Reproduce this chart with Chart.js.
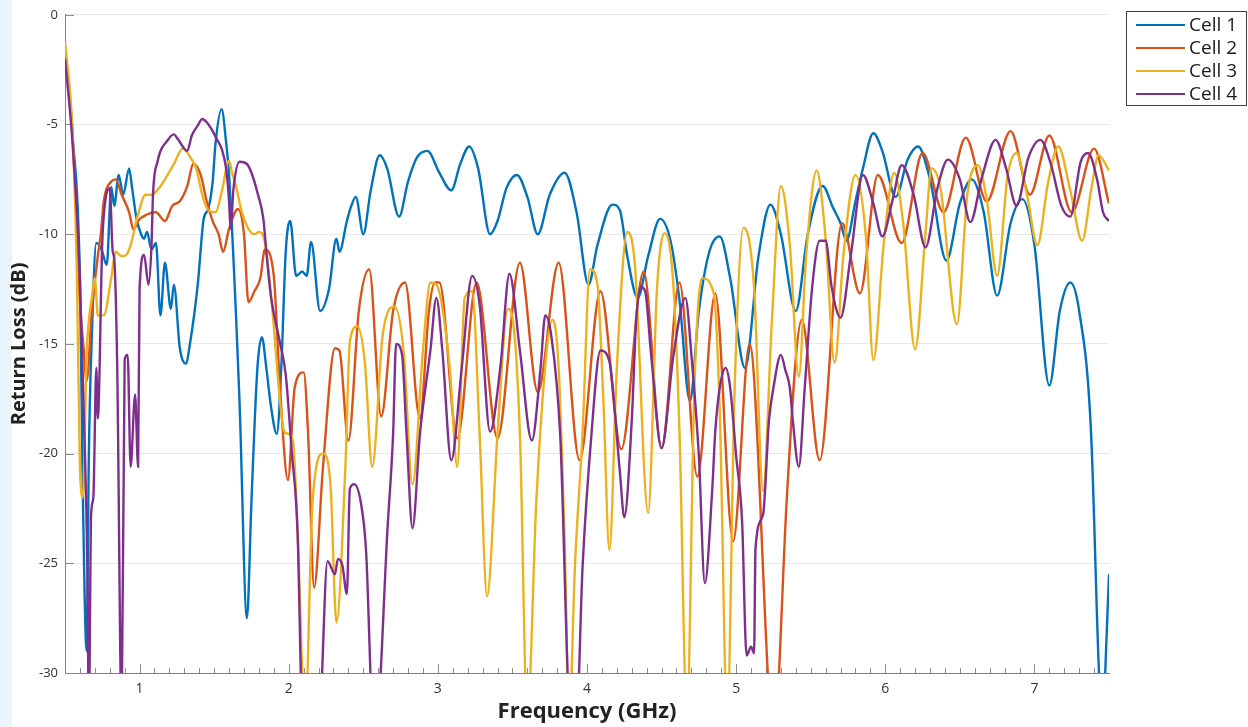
<!DOCTYPE html>
<html>
<head>
<meta charset="utf-8">
<title>Return Loss</title>
<script src="https://cdn.jsdelivr.net/npm/chart.js@4.4.1/dist/chart.umd.min.js"></script>
<style>
    html, body { margin: 0; padding: 0; }
    body {
        width: 1248px; height: 727px; overflow: hidden;
        background: linear-gradient(to right, #eaf4fa 0, #eaf4fa 12px, #ffffff 12px);
    }
</style>
</head>
<body>
<canvas id="rl-chart" width="1248" height="727"></canvas>
<script>
// Axis ticks
const xTickValues = [1, 2, 3, 4, 5, 6, 7];
const yTickValues = [0, -5, -10, -15, -20, -25, -30];

const cellLabels = ['Cell 1', 'Cell 2', 'Cell 3', 'Cell 4'];

// Cell 1 - frequency (GHz) / return loss (dB)
const cell1Freq = [0.50, 0.55, 0.60, 0.62, 0.645, 0.66, 0.68, 0.71, 0.745, 0.78, 0.81, 0.83, 0.86, 0.89, 0.93, 0.95, 0.98, 1.01, 1.03, 1.05,
    1.08, 1.11, 1.14, 1.17, 1.21, 1.23, 1.27, 1.31, 1.34, 1.39, 1.43, 1.46, 1.49, 1.51, 1.55, 1.58, 1.60, 1.67, 1.72, 1.75,
    1.79, 1.82, 1.85, 1.88, 1.92, 1.95, 1.98, 2.01, 2.05, 2.09, 2.12, 2.15, 2.21, 2.27, 2.32, 2.34, 2.39, 2.42, 2.45, 2.50,
    2.55, 2.61, 2.66, 2.74, 2.80, 2.86, 2.93, 3.01, 3.09, 3.15, 3.21, 3.27, 3.35, 3.40, 3.46, 3.53, 3.60, 3.67, 3.75, 3.85,
    3.93, 4.01, 4.07, 4.17, 4.22, 4.27, 4.34, 4.41, 4.49, 4.56, 4.62, 4.69, 4.75, 4.82, 4.89, 4.96, 5.06, 5.15, 5.23, 5.30,
    5.40, 5.48, 5.58, 5.65, 5.70, 5.74, 5.80, 5.85, 5.92, 5.98, 6.07, 6.15, 6.22, 6.30, 6.41, 6.50, 6.58, 6.66, 6.75, 6.84,
    6.92, 7.00, 7.10, 7.17, 7.24, 7.30, 7.38, 7.43, 7.455, 7.48, 7.50];
const cell1Loss = [-1.6, -5.5, -12, -22, -29.0, -20, -14.6, -10.4, -10.7, -11.4, -7.85, -8.7, -7.3, -8.2, -7.0, -7.9, -9.3, -10.0, -10.2, -9.9,
    -10.7, -10.4, -13.7, -11.3, -13.4, -12.3, -15.2, -15.9, -14.9, -12.3, -9.3, -8.85, -7.6, -5.8, -4.3, -5.8, -7.3, -17.6, -27.5, -22.2,
    -16.1, -14.7, -16.1, -17.8, -19.1, -16.1, -10.8, -9.4, -11.9, -11.7, -11.9, -10.35, -13.5, -12.5, -10.2, -10.8, -9.4, -8.7, -8.3, -10.0,
    -8.0, -6.4, -7.0, -9.2, -7.6, -6.5, -6.2, -7.2, -8.0, -6.8, -6.0, -7.0, -10.0, -9.4, -7.9, -7.3, -8.3, -10.0, -8.2, -7.2,
    -9.0, -12.3, -10.5, -8.65, -8.9, -11.0, -12.9, -11.0, -9.3, -10.3, -13.0, -17.6, -13.5, -10.8, -10.1, -12.0, -16.1, -11.0, -8.65, -10.0,
    -13.5, -10.0, -7.8, -8.8, -9.5, -10.3, -8.5, -7.0, -5.4, -6.2, -8.3, -6.6, -6.0, -7.5, -11.2, -8.6, -7.5, -9.0, -12.8, -9.5,
    -8.4, -10.5, -16.9, -13.5, -12.2, -13.5, -19.1, -29.5, -33, -29, -25.5];

// Cell 2
const cell2Freq = [0.50, 0.55, 0.60, 0.625, 0.645, 0.68, 0.72, 0.74, 0.76, 0.81, 0.84, 0.88, 0.93, 0.96, 0.99, 1.05, 1.11, 1.17, 1.22, 1.27,
    1.32, 1.36, 1.41, 1.45, 1.49, 1.53, 1.56, 1.60, 1.66, 1.70, 1.73, 1.77, 1.81, 1.84, 1.90, 1.94, 1.995, 2.04, 2.10, 2.13,
    2.17, 2.23, 2.31, 2.34, 2.40, 2.47, 2.54, 2.62, 2.70, 2.78, 2.88, 2.94, 2.98, 3.01, 3.13, 3.26, 3.40, 3.55, 3.67, 3.81,
    3.95, 4.09, 4.23, 4.38, 4.50, 4.62, 4.74, 4.86, 4.98, 5.09, 5.22, 5.25, 5.28, 5.34, 5.44, 5.56, 5.71, 5.83, 5.95, 6.11,
    6.25, 6.39, 6.54, 6.68, 6.84, 6.97, 7.10, 7.25, 7.40, 7.50];
const cell2Loss = [-1.5, -5.3, -13.1, -15.2, -16.7, -13.5, -11.0, -10.0, -8.5, -7.6, -7.5, -8.2, -9.0, -9.8, -9.4, -9.1, -9.0, -9.4, -8.7, -8.5,
    -7.8, -6.8, -7.3, -8.5, -9.4, -10.0, -10.8, -9.75, -8.85, -10.0, -13.1, -12.6, -12.0, -10.7, -11.9, -16.8, -21.2, -17.0, -16.3, -19.1,
    -26.1, -20.6, -15.2, -15.3, -19.4, -13.5, -11.6, -18.3, -13.5, -12.2, -18.4, -13.5, -12.2, -12.2, -19.3, -12.2, -19.3, -11.3, -17.2, -11.3,
    -20.3, -12.6, -19.8, -11.7, -19.75, -12.2, -21.05, -12.7, -24.0, -15.0, -31, -34, -31, -22, -13.9, -20.3, -9.5, -12.7, -7.3, -10.4,
    -6.3, -9.0, -5.6, -8.5, -5.3, -8.2, -5.5, -9.0, -6.1, -8.6];

// Cell 3
const cell3Freq = [0.50, 0.55, 0.58, 0.60, 0.62, 0.645, 0.68, 0.70, 0.72, 0.76, 0.81, 0.84, 0.88, 0.91, 0.94, 0.99, 1.04, 1.08, 1.13, 1.17,
    1.23, 1.29, 1.35, 1.38, 1.42, 1.46, 1.51, 1.55, 1.60, 1.62, 1.65, 1.68, 1.73, 1.77, 1.80, 1.84, 1.89, 1.94, 1.97, 2.00,
    2.03, 2.06, 2.11, 2.16, 2.23, 2.28, 2.32, 2.38, 2.41, 2.46, 2.51, 2.56, 2.63, 2.71, 2.77, 2.83, 2.90, 2.95, 2.99, 3.08,
    3.13, 3.18, 3.23, 3.28, 3.33, 3.40, 3.47, 3.50, 3.55, 3.60, 3.66, 3.73, 3.77, 3.81, 3.85, 3.88, 3.92, 3.97, 4.02, 4.07,
    4.11, 4.15, 4.20, 4.27, 4.32, 4.41, 4.47, 4.52, 4.58, 4.62, 4.67, 4.72, 4.77, 4.85, 4.89, 4.94, 4.99, 5.05, 5.12, 5.18,
    5.24, 5.30, 5.36, 5.42, 5.47, 5.54, 5.60, 5.66, 5.72, 5.80, 5.87, 5.92, 5.99, 6.06, 6.12, 6.20, 6.27, 6.31, 6.37, 6.48,
    6.55, 6.62, 6.68, 6.75, 6.82, 6.88, 6.95, 7.02, 7.09, 7.16, 7.24, 7.32, 7.38, 7.43, 7.50];
const cell3Loss = [-1.2, -5.3, -12, -20.6, -22.0, -15.5, -12.9, -12.0, -13.7, -13.7, -12.0, -10.8, -11.0, -10.95, -10.5, -9.1, -8.2, -8.2, -7.9, -7.5,
    -6.8, -6.1, -6.6, -7.0, -8.2, -8.9, -9.0, -8.1, -6.65, -7.2, -7.9, -8.85, -9.75, -10.0, -9.9, -10.35, -13.4, -17.5, -19.0, -19.1,
    -19.5, -23.7, -32, -22.2, -20.0, -21.4, -27.7, -20.6, -14.9, -14.2, -15.8, -20.6, -14.6, -13.3, -15.3, -21.4, -15.3, -12.2, -12.3, -16.1,
    -20.6, -12.9, -12.6, -19.1, -26.5, -19.1, -13.4, -13.8, -19.1, -32, -22.2, -15.3, -13.9, -16.1, -24, -32, -25, -19.1, -11.6, -12.3,
    -17.6, -24.4, -16.1, -9.9, -11.3, -22.7, -12.4, -9.95, -12.4, -19, -32, -17.0, -12.0, -12.7, -18, -32, -17.0, -9.7, -12.4, -21.7,
    -13.9, -7.8, -10.5, -16.5, -10.9, -7.1, -10.2, -15.85, -10.9, -7.3, -10.1, -15.75, -10.4, -7.2, -9.5, -15.25, -9.9, -7.0, -7.9, -14.1,
    -8.2, -6.85, -8.4, -11.9, -7.35, -6.3, -8.2, -10.5, -7.7, -6.0, -8.0, -10.3, -8.0, -6.4, -7.1];

// Cell 4
const cell4Freq = [0.50, 0.55, 0.60, 0.63, 0.65, 0.66, 0.675, 0.69, 0.71, 0.72, 0.75, 0.77, 0.80, 0.82, 0.83, 0.85, 0.88, 0.90, 0.92, 0.94,
    0.97, 0.99, 1.00, 1.03, 1.06, 1.08, 1.09, 1.12, 1.19, 1.23, 1.26, 1.32, 1.35, 1.39, 1.42, 1.45, 1.49, 1.52, 1.55, 1.58,
    1.60, 1.61, 1.63, 1.67, 1.72, 1.75, 1.79, 1.83, 1.85, 1.88, 1.94, 1.98, 2.02, 2.06, 2.09, 2.15, 2.21, 2.26, 2.31, 2.33,
    2.36, 2.39, 2.41, 2.44, 2.49, 2.52, 2.56, 2.58, 2.60, 2.66, 2.70, 2.72, 2.76, 2.79, 2.83, 2.88, 2.95, 2.99, 3.03, 3.09,
    3.16, 3.23, 3.28, 3.35, 3.42, 3.48, 3.55, 3.63, 3.69, 3.72, 3.76, 3.82, 3.89, 3.93, 3.97, 4.03, 4.09, 4.15, 4.22, 4.25,
    4.30, 4.33, 4.36, 4.39, 4.43, 4.50, 4.58, 4.66, 4.70, 4.75, 4.79, 4.84, 4.86, 4.89, 4.93, 4.96, 5.00, 5.04, 5.07, 5.10,
    5.12, 5.13, 5.18, 5.22, 5.25, 5.30, 5.33, 5.36, 5.38, 5.42, 5.46, 5.51, 5.56, 5.60, 5.64, 5.70, 5.77, 5.85, 5.92, 5.98,
    6.05, 6.11, 6.19, 6.27, 6.35, 6.42, 6.50, 6.57, 6.65, 6.74, 6.81, 6.88, 6.96, 7.04, 7.11, 7.18, 7.24, 7.31, 7.36, 7.42,
    7.46, 7.50];
const cell4Loss = [-2.0, -5.8, -12, -19.1, -25.2, -32, -22.8, -22.0, -16.1, -18.4, -10.35, -8.5, -7.9, -10.8, -11.1, -16, -32, -15.7, -15.5, -20.6,
    -17.3, -20.6, -12.5, -10.95, -12.3, -10.5, -8.2, -6.7, -5.7, -5.45, -5.7, -6.2, -5.5, -5.05, -4.75, -4.9, -5.3, -5.7, -6.1, -7.0,
    -8.5, -9.75, -7.9, -6.7, -6.8, -7.2, -8.1, -9.3, -10.8, -12.8, -14.9, -16.4, -19.9, -23.7, -32, -34, -32, -24.9, -25.5, -24.8,
    -25.1, -26.4, -21.6, -21.4, -22.5, -24.6, -32, -33, -32, -23.7, -19.1, -15.0, -15.5, -19.1, -23.4, -19.1, -15.3, -12.9, -15.3, -20.3,
    -16.1, -11.9, -13.2, -19.0, -16.0, -11.8, -15.3, -19.4, -16.0, -13.7, -14.6, -19.1, -32, -32, -25.2, -19.1, -15.3, -15.8, -20.8, -22.9,
    -18.5, -13.9, -12.4, -12.6, -15.5, -19.75, -15.5, -12.9, -15.5, -20.1, -25.9, -21.6, -19.0, -17.0, -16.1, -17.0, -20.1, -23.1, -29.2, -28.8,
    -29.1, -24.3, -22.8, -18.5, -17.0, -15.5, -16.2, -17.0, -18.5, -20.6, -17.0, -12.4, -10.3, -10.3, -12.4, -13.8, -10.9, -7.3, -8.6, -10.1,
    -8.4, -6.85, -8.2, -10.6, -7.9, -6.6, -7.5, -9.45, -7.35, -5.7, -7.0, -8.7, -6.5, -5.7, -6.8, -8.7, -9.2, -6.7, -6.3, -7.5,
    -9.0, -9.4];

const cellFreqs = [cell1Freq, cell2Freq, cell3Freq, cell4Freq];
const cellLosses = [cell1Loss, cell2Loss, cell3Loss, cell4Loss];
const lineColors = ['#0072BD', '#D95319', '#EDB120', '#7E2F8E'];

// MATLAB style inward ticks (major + minor on x)
const innerTicks = {
    id: 'innerTicks',
    beforeDatasetsDraw(chart) {
        const { ctx, chartArea, scales: { x, y } } = chart;
        ctx.save();
        ctx.strokeStyle = '#8c8c8c';
        ctx.lineWidth = 1;
        ctx.beginPath();
        for (let t = Math.ceil(x.min * 10 + 0.01); t < x.max * 10; t++) {
            const px = Math.round(x.getPixelForValue(t / 10)) + 0.5;
            const len = t % 10 === 0 ? 9 : 5;
            ctx.moveTo(px, chartArea.bottom);
            ctx.lineTo(px, chartArea.bottom - len);
        }
        yTickValues.forEach(v => {
            const py = Math.round(y.getPixelForValue(v)) + 0.5;
            ctx.moveTo(chartArea.left, py);
            ctx.lineTo(chartArea.left + 9, py);
        });
        ctx.stroke();
        ctx.restore();
    }
};

// Boxed legend in the top-right corner
const boxLegend = {
    id: 'boxLegend',
    afterDraw(chart) {
        const ctx = chart.ctx;
        const bx = 1126.5, by = 11.5, bw = 120, bh = 94;
        ctx.save();
        ctx.fillStyle = '#ffffff';
        ctx.fillRect(bx, by, bw, bh);
        ctx.strokeStyle = '#404040';
        ctx.lineWidth = 1;
        ctx.strokeRect(bx, by, bw, bh);
        ctx.font = '19px "Open Sans"';
        ctx.textBaseline = 'middle';
        chart.data.datasets.forEach((ds, i) => {
            const cy = 25 + i * 23;
            ctx.strokeStyle = ds.borderColor;
            ctx.lineWidth = 2;
            ctx.beginPath();
            ctx.moveTo(1136, cy);
            ctx.lineTo(1185, cy);
            ctx.stroke();
            ctx.fillStyle = '#1a1a1a';
            ctx.fillText(ds.label, 1189, cy + 1);
        });
        ctx.restore();
    }
};

new Chart(document.getElementById('rl-chart'), {
    type: 'line',
    data: {
        datasets: cellLabels.map((label, i) => ({
            label: label,
            data: cellFreqs[i].map((f, j) => ({ x: f, y: cellLosses[i][j] })),
            borderColor: lineColors[i],
            backgroundColor: lineColors[i],
            borderWidth: 2.4,
            pointRadius: 0,
            cubicInterpolationMode: 'monotone',
            clip: 0,
            order: cellLabels.length - i
        }))
    },
    options: {
        responsive: false,
        animation: false,
        layout: { padding: { left: 0, top: 12, right: 139, bottom: 0 } },
        plugins: { legend: { display: false }, tooltip: { enabled: false } },
        scales: {
            x: {
                type: 'linear', min: 0.5, max: 7.5,
                afterBuildTicks: s => { s.ticks = xTickValues.map(v => ({ value: v })); },
                afterFit: s => { s.height = 54; },
                grid: { display: false, drawTicks: false },
                border: { display: true, color: '#808080' },
                ticks: { color: '#333', font: { family: 'Open Sans', size: 14 }, padding: 8, maxRotation: 0, autoSkip: false },
                title: { display: true, text: 'Frequency (GHz)', color: '#222', font: { family: 'Open Sans', size: 22, weight: 'bold' }, padding: { top: 0, bottom: 2 } }
            },
            y: {
                type: 'linear', min: -30, max: 0,
                afterBuildTicks: s => { s.ticks = yTickValues.map(v => ({ value: v })); },
                afterFit: s => { s.width = 65; },
                grid: { color: '#e9e9e9', drawTicks: false },
                border: { display: true, color: '#808080' },
                ticks: { color: '#333', font: { family: 'Open Sans', size: 13 }, padding: 7 },
                title: { display: true, text: 'Return Loss (dB)', color: '#222', font: { family: 'Open Sans', size: 20, weight: 'bold' }, padding: { top: 7, bottom: 0 } }
            }
        }
    },
    plugins: [innerTicks, boxLegend]
});
</script>
</body>
</html>
